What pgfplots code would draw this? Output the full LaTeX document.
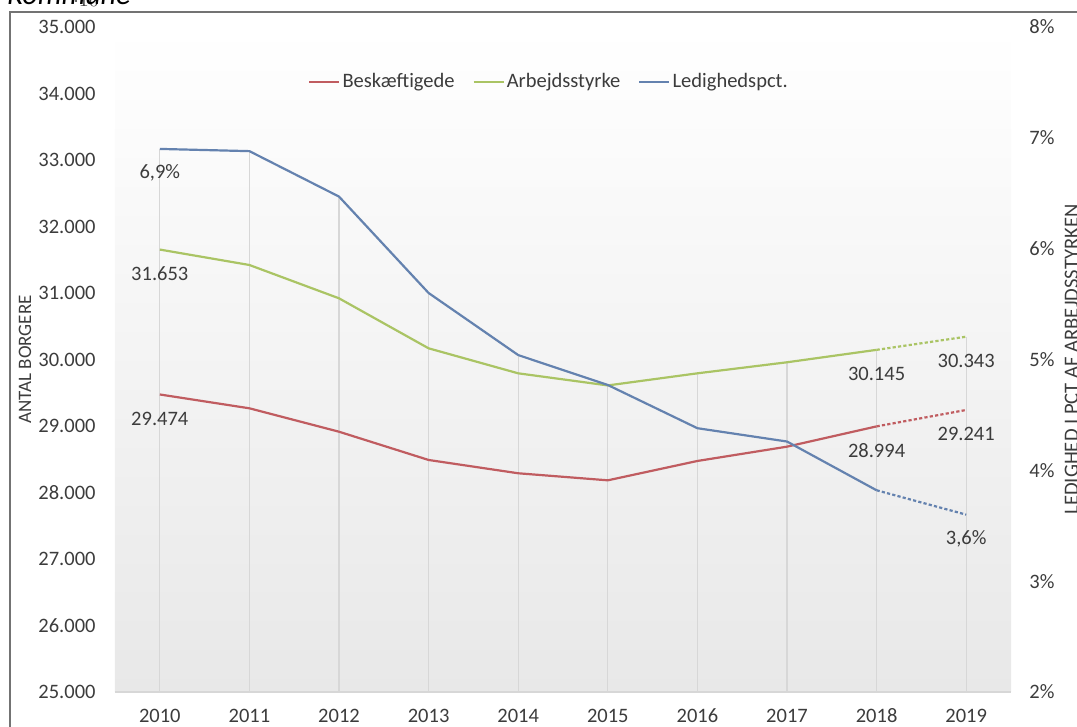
\documentclass[border=0pt]{standalone}
\usepackage{pgfplots}
\pgfplotsset{compat=1.18}
\usepackage{pgfplotstable}
\usepackage{fontspec}
\setmainfont{Carlito}
\definecolor{cRed}{RGB}{192,92,96}
\definecolor{cGreen}{RGB}{170,196,100}
\definecolor{cBlue}{RGB}{100,130,175}
\definecolor{txt}{RGB}{60,60,60}
\definecolor{grid}{RGB}{215,215,215}
\newcommand\fs{\fontsize{10.25}{12}\selectfont}

\pgfplotstableread{
year emp lab
2010 29474 31653
2011 29266 31421
2012 28914 30920
2013 28489 30168
2014 28289 29792
2015 28183 29610
2016 28474 29792
2017 28689 29958
2018 28994 30145
2019 29241 30343
}\tblA

\pgfplotstableread{
year led
2010 6.90
2011 6.88
2012 6.47
2013 5.60
2014 5.04
2015 4.77
2016 4.38
2017 4.26
2018 3.82
2019 3.60
}\tblB

\begin{document}
\begin{tikzpicture}
\begin{axis}[
  scale only axis, width=448pt, height=332.5pt,
  xmin=2009.5, xmax=2019.5, ymin=25000, ymax=35000,
  axis x line*=bottom, axis y line*=left,
  axis line style={-},
  x axis line style={draw=grid, line width=0.75pt},
  y axis line style={draw=none},
  xtick={2010,2011,2012,2013,2014,2015,2016,2017,2018,2019},
  xticklabels={2010,2011,2012,2013,2014,2015,2016,2017,2018,2019},
  ytick={25000,26000,...,35000},
  yticklabels={25.000,26.000,27.000,28.000,29.000,30.000,31.000,32.000,33.000,34.000,35.000},
  major tick length=0,
  tick label style={font=\fs, text=txt},
  xticklabel style={anchor=center, yshift=-12pt},
  yticklabel style={anchor=center, xshift=-24pt},
  axis background/.style={top color=white, bottom color=black!9},
]
% drop lines (top of highest series at each year)
\addplot[draw=grid, line width=0.6pt, unbounded coords=jump, forget plot] coordinates {
(2010,25000) (2010,33167) (2010,nan)
(2011,25000) (2011,33133) (2011,nan)
(2012,25000) (2012,32450) (2012,nan)
(2013,25000) (2013,31000) (2013,nan)
(2014,25000) (2014,30067) (2014,nan)
(2015,25000) (2015,29617) (2015,nan)
(2016,25000) (2016,29792) (2016,nan)
(2017,25000) (2017,29958) (2017,nan)
(2018,25000) (2018,30145) (2018,nan)
(2019,25000) (2019,30343)
};
\addplot[cRed, line width=1.1pt, mark=none, restrict x to domain=2010:2018] table[x=year, y=emp] {\tblA};
\addplot[cRed, line width=1.1pt, mark=none, dash pattern=on 1.6pt off 1.1pt] coordinates {(2018,28994) (2019,29241)};
\addplot[cGreen, line width=1.1pt, mark=none, restrict x to domain=2010:2018] table[x=year, y=lab] {\tblA};
\addplot[cGreen, line width=1.1pt, mark=none, dash pattern=on 1.6pt off 1.1pt] coordinates {(2018,30145) (2019,30343)};
\node[font=\fs, text=txt, yshift=-12pt] at (axis cs:2010,31653) {31.653};
\node[font=\fs, text=txt, yshift=-12pt] at (axis cs:2010,29474) {29.474};
\node[font=\fs, text=txt, yshift=-12pt] at (axis cs:2018,30145) {30.145};
\node[font=\fs, text=txt, yshift=-12pt] at (axis cs:2019,30343) {30.343};
\node[font=\fs, text=txt, yshift=-12pt] at (axis cs:2018,28994) {28.994};
\node[font=\fs, text=txt, yshift=-12pt] at (axis cs:2019,29241) {29.241};
\end{axis}

\begin{axis}[
  scale only axis, width=448pt, height=332.5pt,
  xmin=2009.5, xmax=2019.5, ymin=2, ymax=8,
  axis x line=none, axis y line*=right,
  y axis line style={draw=none},
  ytick={2,3,4,5,6,7,8},
  yticklabels={2\%,3\%,4\%,5\%,6\%,7\%,8\%},
  major tick length=0,
  yticklabel style={font=\fs, text=txt, anchor=center, xshift=15.5pt},
  legend columns=3,
  legend style={draw=none, fill=none, at={(0.2154,0.917)}, anchor=west,
    inner sep=0pt, font=\fs, text=txt, nodes={inner sep=1pt},
    /tikz/every even column/.append style={column sep=8pt}},
  legend image code/.code={\draw[#1] (0pt,0pt) -- (15pt,0pt);},
]
\addlegendimage{cRed, line width=1.1pt}
\addlegendentry{Beskæftigede}
\addlegendimage{cGreen, line width=1.1pt}
\addlegendentry{Arbejdsstyrke}
\addplot[cBlue, line width=1.1pt, mark=none, restrict x to domain=2010:2018] table[x=year, y=led] {\tblB};
\addlegendentry{Ledighedspct.}
\addplot[cBlue, line width=1.1pt, mark=none, dash pattern=on 1.6pt off 1.1pt, forget plot] coordinates {(2018,3.82) (2019,3.60)};
\node[font=\fs, text=txt, yshift=-12pt] at (axis cs:2010,6.9) {6,9\%};
\node[font=\fs, text=txt, yshift=-12pt] at (axis cs:2019,3.6) {3,6\%};
\end{axis}

\node[rotate=90, font=\fontsize{9.5}{11}\selectfont, text=txt] at (-45pt,166.25pt) {ANTAL BORGERE};
\node[rotate=90, anchor=base, font=\fontsize{10.3}{12}\selectfont, text=txt] at (481.5pt,166.25pt) {LEDIGHED I PCT AF ARBEJDSSTYRKEN};
\draw[black!55, line width=0.75pt] (-52.5pt,-40pt) -- (-52.5pt,340pt) -- (520pt,340pt);
\node[anchor=base west, font=\fontsize{15}{18}\selectfont\itshape, inner sep=0pt] at (-54pt,343.5pt) {Kommune};
\pgfresetboundingbox
\useasboundingbox (-57.5pt,-17.5pt) rectangle (481pt,346pt);
\end{tikzpicture}
\end{document}
